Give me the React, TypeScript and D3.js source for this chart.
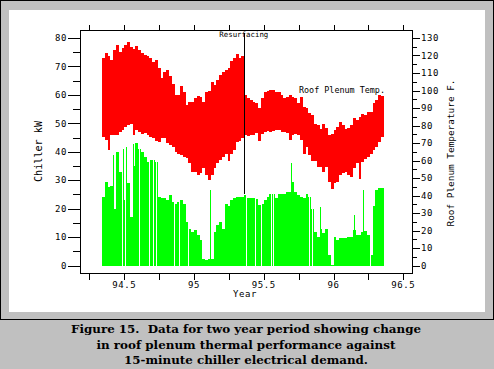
import React from 'react';
import * as d3 from 'd3';

// bins of 0.02 year, first bin centred on 94.35
const binStart = 94.35;
const binStep = 0.02;

// roof plenum temperature envelope (deg F) per bin
const tempMax = [
  118.4, 121.2, 119.9, 117.4, 123.1, 126, 122.2, 124.5, 126, 127.5,
  125, 124, 125.4, 123.1, 121.2, 120.3, 119.9, 118.7, 116.1, 117.4,
  112.6, 107.3, 110.7, 111.7, 108.4, 103.5, 97.4, 97.4, 102.7, 99.3,
  91.7, 93.6, 93.6, 95.5, 97, 96.4, 93.6, 99.3, 99.7, 105,
  103.1, 106, 108.8, 110.4, 111.7, 112.6, 116.8, 118.4, 120.6, 118.4,
  119.9, 97.4, 95.9, 94.5, 93.6, 92.6, 89.8, 95.9, 99.3, 99.7,
  100.3, 100.3, 98.9, 98.9, 97.4, 95.5, 96.4, 97.4, 96.4, 95.9,
  92.6, 96.4, 90.7, 89.8, 86.9, 86, 80.6, 80.2, 78, 80.6,
  78.3, 74.5, 74.9, 77.4, 79.3, 81.8, 80.2, 78, 78.3, 80.2,
  84.1, 83.1, 85, 86.3, 86, 87.9, 87.9, 92.6, 94.5, 97.4, 97,
];
const tempMin = [
  73.6, 71.7, 65.9, 74.5, 74.5, 74.5, 76.4, 77.4, 79.3, 80.2,
  80.6, 74.5, 77.4, 76.4, 74.9, 75.5, 74.5, 73.6, 72.6, 71.1,
  70.7, 73, 72.6, 69.8, 68.8, 67.9, 65, 63.5, 63.1, 62.1,
  61.2, 58.3, 53.6, 53.6, 51.6, 52.6, 55.5, 51.6, 48.8, 51.6,
  55.5, 58.3, 60.2, 62.1, 64, 59.7, 64, 65.9, 70.3, 71.1,
  73, 74.5, 74, 74.5, 74.5, 75.5, 71.1, 74.9, 76.1, 76.8,
  76.4, 76.8, 77.4, 77.4, 76.1, 76.4, 75.5, 72, 74.5, 74.9,
  74.5, 71.7, 64, 67.9, 63.1, 59.7, 59.7, 56.4, 56.4, 53.6,
  56.4, 47.8, 43.6, 46.9, 47.8, 51.6, 52.6, 53.6, 51.6, 50.7,
  55.5, 58.3, 49.7, 59.3, 60.8, 62.1, 64, 65.9, 67.9, 70.3, 73.6,
];
// chiller demand (kW) per bin
const chillerKw = [
  24, 29.5, 27.5, 28, 20, 40, 33, 41, 23, 28.9,
  17, 35, 43, 41, 40, 38, 36.5, 37, 37, 36.5,
  24.2, 23.8, 23.6, 23, 24.7, 22.4, 21.8, 22.4, 23, 21.8,
  15.4, 13, 11.8, 12.4, 10.9, 9, 2.2, 1.9, 2.2, 2.4,
  11.8, 14.2, 15.4, 13, 21.5, 21, 23, 23.8, 24.2, 24.2,
  24.2, 24.7, 23.9, 23.6, 23.6, 23.3, 21.2, 21.8, 23, 24.2,
  25.1, 25, 23.8, 25.3, 25, 25.3, 25.7, 25.9, 29.4, 26,
  24.7, 24.2, 23.8, 25.3, 24.2, 20, 11.8, 10.1, 13, 11.3,
  13, 3.6, 0.1, 10.1, 8.9, 9.7, 9.5, 9.7, 10.1, 10.1,
  12.4, 10.9, 10.7, 11.8, 12, 10.7, 3.6, 20.9, 26.5, 27.1, 27.3,
];
// single days that stand out
const kwSpikes: [number, number][] = [
  [94.422, 38.9], [94.518, 41.8], [94.569, 42.6], [95.121, 26.5],
  [95.696, 36], [95.905, 20.6], [96.153, 17.7], [96.217, 26.5],
];
// days with no chiller demand
const kwGaps = [
  94.485, 94.509, 94.611, 94.679, 94.707, 94.731, 94.862, 94.893, 94.962,
  95.374, 95.441, 95.481, 95.553, 95.571, 95.826, 95.85, 96.262,
];
const resurfacingYear = 95.36;
const resurfacingKw = 25;

const xTicks = [94.25, 94.5, 94.75, 95, 95.25, 95.5, 95.75, 96, 96.25, 96.5];
const xLabels = ['', '94.5', '', '95', '', '95.5', '', '96', '', '96.5'];
const kwTicks = [0, 5, 10, 15, 20, 25, 30, 35, 40, 45, 50, 55, 60, 65, 70, 75, 80];
const tempTicks = [0, 5, 10, 15, 20, 25, 30, 35, 40, 45, 50, 55, 60, 65, 70, 75, 80, 85, 90, 95, 100, 105, 110, 115, 120, 125, 130];

const captionLines = [
  'Figure 15.  Data for two year period showing change',
  'in roof plenum thermal performance against',
  '15-minute chiller electrical demand.',
];
const captionLengths = [350, 299, 244];

const mono = '"DejaVu Sans Mono", monospace';

export default function App() {
  const x = d3.scaleLinear().domain([94.5, 96.5]).range([124.3, 403.3]);
  const yK = d3.scaleLinear().domain([0, 80]).range([265.5, 38]);
  const yT = d3.scaleLinear().domain([0, 130]).range([265.5, 38]);
  const frame = { left: 80.5, right: 412.5, top: 30.5, bottom: 273.5 };

  const n = tempMax.length;
  const binOf = (yr: number) =>
    Math.max(0, Math.min(n - 1, Math.round((yr - binStart) / binStep)));
  const px0 = Math.round(x(binStart - binStep / 2));
  const px1 = Math.round(x(binStart + binStep * (n - 0.5)));

  const cols = d3.range(px0, px1).map((px) => {
    const c = px + 0.5;
    const i = binOf(x.invert(c));
    let kw = chillerKw[i];
    const spike = kwSpikes.find(([s]) => Math.abs(x(s) - c) < 0.5);
    if (spike) kw = spike[1];
    if (kwGaps.some((g) => Math.abs(x(g) - c) < 0.5)) kw = 0;
    return { px, tMax: tempMax[i], tMin: tempMin[i], kw };
  });

  const xr = Math.round(x(resurfacingYear)) + 0.5;

  return (
    <svg width={494} height={369} style={{ position: 'absolute', left: 0, top: 0 }}>
      <rect x={0} y={0} width={494} height={369} fill="#c0c0c0" />
      <rect x={0} y={0} width={494} height={320} fill="#000" />
      <rect x={1} y={1} width={492} height={318} fill="#c0c0c0" />
      <rect x={9} y={10} width={476} height={302} fill="#fff" />

      <g shapeRendering="crispEdges">
        {cols.map((d) => (
          <rect key={'k' + d.px} x={d.px} width={1} y={yK(d.kw)} height={yK(0) - yK(d.kw)} fill="#00ff00" />
        ))}
        {cols.map((d) => (
          <rect key={'t' + d.px} x={d.px} width={1} y={yT(d.tMax)} height={yT(d.tMin) - yT(d.tMax)} fill="#ff0000" />
        ))}
      </g>

      {/* frame */}
      <g stroke="#000" strokeWidth={1} shapeRendering="crispEdges" fill="none">
        <rect x={frame.left} y={frame.top} width={frame.right - frame.left} height={frame.bottom - frame.top} />
        {xTicks.map((t) => (
          <g key={'xt' + t}>
            <line x1={Math.round(x(t)) + 0.5} x2={Math.round(x(t)) + 0.5} y1={frame.top} y2={frame.top - 6} />
            <line x1={Math.round(x(t)) + 0.5} x2={Math.round(x(t)) + 0.5} y1={frame.bottom} y2={frame.bottom + 6.5} />
          </g>
        ))}
        {kwTicks.map((t) => (
          <line key={'kt' + t} x1={frame.left} x2={frame.left - (t % 10 === 0 ? 12.5 : 7.5)}
            y1={Math.round(yK(t)) + 0.5} y2={Math.round(yK(t)) + 0.5} />
        ))}
        {tempTicks.map((t) => (
          <line key={'tt' + t} x1={frame.right} x2={frame.right + (t % 10 === 0 ? 7.5 : 4.5)}
            y1={Math.round(yT(t)) + 0.5} y2={Math.round(yT(t)) + 0.5} />
        ))}
        <line x1={xr} x2={xr} y1={33} y2={yK(resurfacingKw)} />
      </g>

      <g fontFamily={mono} fontSize={9} fill="#000" letterSpacing={0.6}>
        {xTicks.map((t, i) =>
          xLabels[i] ? (
            <text key={'xl' + t} x={x(t)} y={287.5} textAnchor="middle">{xLabels[i]}</text>
          ) : null
        )}
        {kwTicks.filter((t) => t % 10 === 0).map((t) => (
          <text key={'kl' + t} x={67} y={yK(t) + 3.3} textAnchor="end">{t}</text>
        ))}
        {tempTicks.filter((t) => t % 10 === 0).map((t) => (
          <text key={'tl' + t} x={421} y={yT(t) + 3.3}>{t}</text>
        ))}
        <text x={245} y={296.5} textAnchor="middle">Year</text>
      </g>

      <text fontFamily={mono} fontSize={10} x={0} y={0} textAnchor="middle"
        transform="translate(41.5,151.5) rotate(-90)" textLength={61} lengthAdjust="spacingAndGlyphs">
        Chiller kW
      </text>
      <text fontFamily={mono} fontSize={9.4} x={0} y={0} textAnchor="middle"
        transform="translate(453.6,153) rotate(-90)" textLength={147} lengthAdjust="spacingAndGlyphs">
        Roof Plenum Temperature F.
      </text>

      <text fontFamily={mono} fontSize={7.4} x={219.3} y={37} textLength={49} lengthAdjust="spacingAndGlyphs">
        Resurfacing
      </text>
      <text fontFamily={mono} fontSize={8} x={299} y={93.3} textLength={86} lengthAdjust="spacingAndGlyphs">
        Roof Plenum Temp.
      </text>

      <g fontFamily='"DejaVu Serif", serif' fontWeight="bold" fontSize={10.5} fill="#000">
        {captionLines.map((line, i) => (
          <text key={i} x={246 - captionLengths[i] / 2} y={333 + i * 15.5}
            textLength={captionLengths[i]} lengthAdjust="spacingAndGlyphs" style={{ whiteSpace: 'pre' }}>
            {line}
          </text>
        ))}
      </g>
    </svg>
  );
}
